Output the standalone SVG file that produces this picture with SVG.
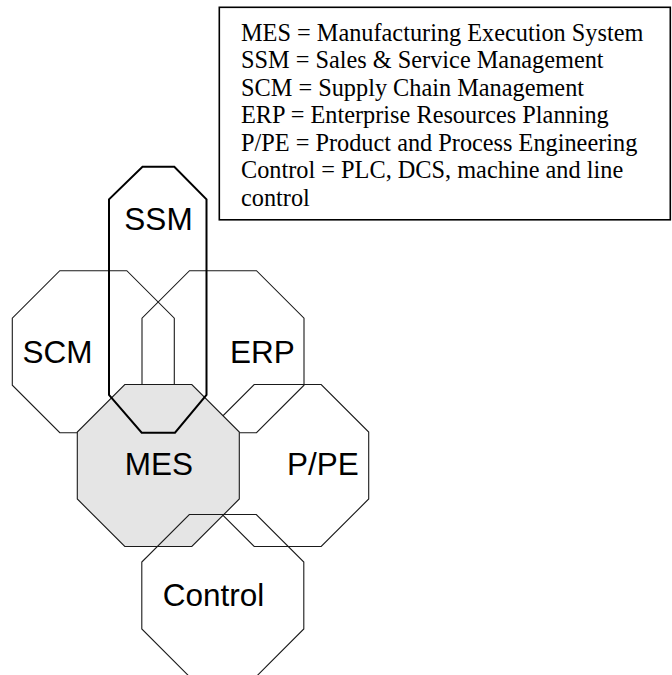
<svg xmlns="http://www.w3.org/2000/svg" width="672" height="675" viewBox="0 0 672 675">
<defs>
<style>
.oct{fill:none;stroke:#1a1a1a;stroke-width:1.1}
.mes{fill:#e5e5e5;stroke:#1a1a1a;stroke-width:1.1}
.ssm{fill:none;stroke:#000;stroke-width:2}
.lbl{font-family:"Liberation Sans",Arial,sans-serif;font-size:31.5px;fill:#000;text-anchor:middle}
.leg{font-family:"Liberation Serif","Times New Roman",serif;font-size:24.3px;fill:#000}
</style>
<polygon id="octShape" points="-33.5,-81 33.5,-81 81,-33.5 81,33.5 33.5,81 -33.5,81 -81,33.5 -81,-33.5"/>
</defs>
<rect width="672" height="675" fill="#fff"/>
<g id="legend">
<rect x="219.3" y="7.3" width="451" height="212.5" fill="#fff" stroke="#000" stroke-width="1.6"/>
<text class="leg" x="241" y="40.5">MES = Manufacturing Execution System</text>
<text class="leg" x="241" y="68">SSM = Sales &amp; Service Management</text>
<text class="leg" x="241" y="95.5">SCM = Supply Chain Management</text>
<text class="leg" x="241" y="123">ERP = Enterprise Resources Planning</text>
<text class="leg" x="241" y="150.5">P/PE = Product and Process Engineering</text>
<text class="leg" x="241" y="178">Control = PLC, DCS, machine and line</text>
<text class="leg" x="241" y="205.5">control</text>
</g>
<g id="connectors"/>
<g id="node-scm">
<use href="#octShape" class="oct" transform="translate(93.3,351.7)"/>
<text class="lbl" x="57.5" y="363.3">SCM</text>
</g>
<g id="node-erp">
<use href="#octShape" class="oct" transform="translate(223,351.7)"/>
<text class="lbl" x="262.5" y="363.3">ERP</text>
</g>
<g id="node-ppe">
<use href="#octShape" class="oct" transform="translate(287.7,465.5)"/>
<text class="lbl" x="323" y="475">P/PE</text>
</g>
<g id="node-mes">
<use href="#octShape" class="mes" transform="translate(158.3,465.5)"/>
<text class="lbl" x="158.8" y="475">MES</text>
</g>
<g id="node-control">
<use href="#octShape" class="oct" transform="translate(222.8,595.5)"/>
<text class="lbl" x="213.5" y="606">Control</text>
</g>
<g id="node-ssm">
<polygon class="ssm" points="142.5,166.7 174.3,166.7 206.5,199.3 206.5,395 175,432.7 141.7,432.7 109,395 109,199.3"/>
<text class="lbl" x="158.5" y="229.5">SSM</text>
</g>
</svg>
